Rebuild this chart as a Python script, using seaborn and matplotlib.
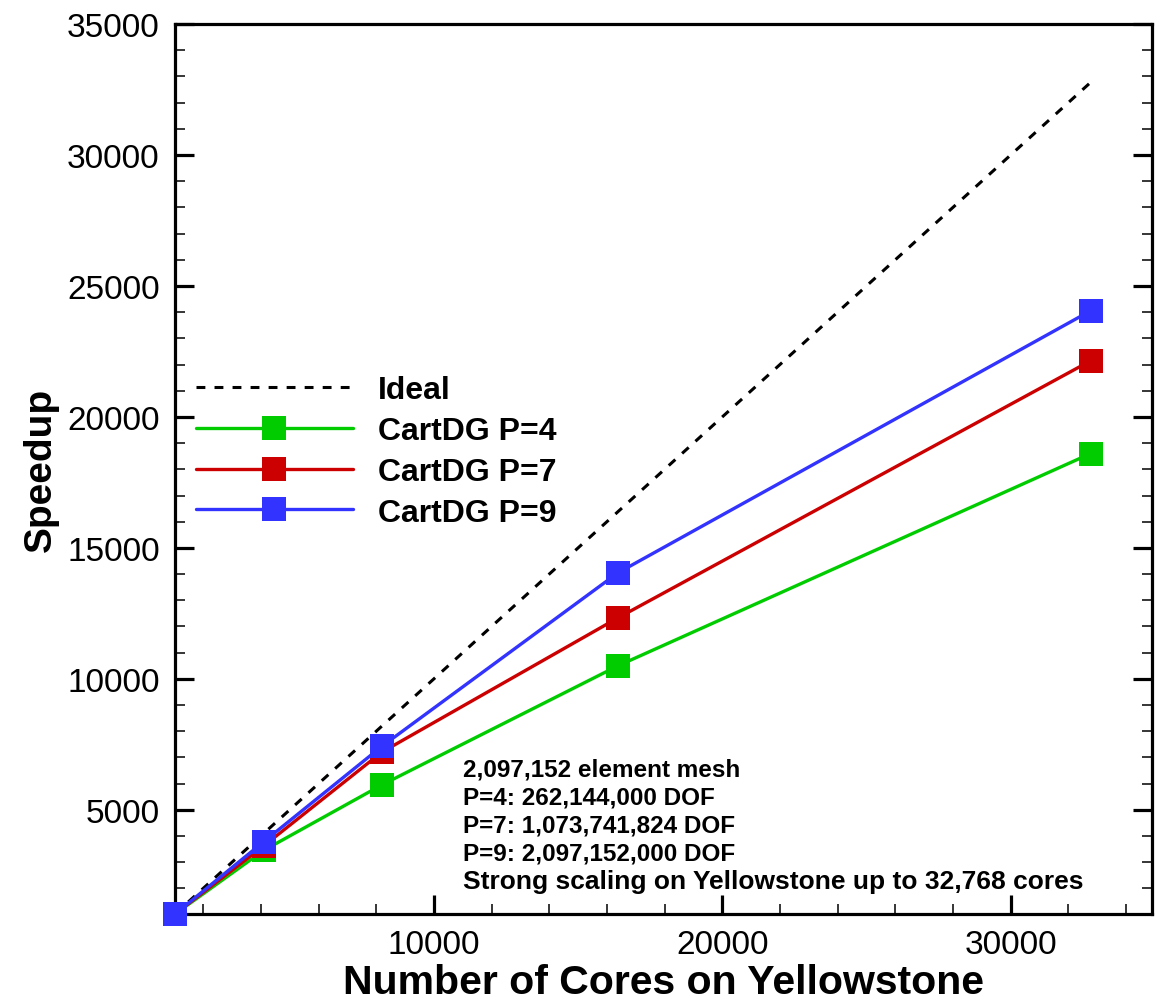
import matplotlib
matplotlib.use("Agg")
import matplotlib.pyplot as plt
from matplotlib.ticker import MultipleLocator
import seaborn as sns
import pandas as pd

# ---- data ----
cores = [1024, 4096, 8192, 16384, 32768]
ideal = [1024, 4096, 8192, 16384, 32768]
p4 = [1024, 3450, 5950, 10500, 18600]
p7 = [1024, 3620, 7200, 12330, 22140]
p9 = [1024, 3780, 7420, 14050, 24050]
series_names = ["CartDG P=4", "CartDG P=7", "CartDG P=9"]
series_colors = ["#00cc00", "#cc0000", "#3333ff"]
annotation_lines = [
    "2,097,152 element mesh",
    "P=4: 262,144,000 DOF",
    "P=7: 1,073,741,824 DOF",
    "P=9: 2,097,152,000 DOF",
]
annotation_last = "Strong scaling on Yellowstone up to 32,768 cores"

sns.set_theme(style="white")
plt.rcParams["font.family"] = ["Liberation Sans", "DejaVu Sans"]
plt.rcParams.update({"text.color": "black", "axes.labelcolor": "black",
                     "xtick.color": "black", "ytick.color": "black"})

rows = []
for name, vals in zip(series_names, [p4, p7, p9]):
    for c, v in zip(cores, vals):
        rows.append({"cores": c, "speedup": v, "series": name})
df = pd.DataFrame(rows)
df_ideal = pd.DataFrame({"cores": cores, "speedup": ideal})

fig = plt.figure(figsize=(11.6, 10.03), dpi=100)
ax = fig.add_axes([175/1160, 1-915/1003, (1152-175)/1160, (915-25)/1003])

sns.lineplot(data=df_ideal, x="cores", y="speedup", ax=ax, color="black",
             linewidth=2.2, linestyle=(0, (2.9, 3.0)), label="Ideal", zorder=2)
for name, col in zip(series_names, series_colors):
    sub = df[df["series"] == name]
    sns.lineplot(data=sub, x="cores", y="speedup", ax=ax, color=col,
                 linewidth=2.4, marker="s", markersize=17, markeredgewidth=0,
                 label=name, clip_on=False, zorder=3)

ax.set_xlim(1024, 34900)
ax.set_ylim(1024, 35000)
ax.xaxis.set_major_locator(MultipleLocator(10000))
ax.xaxis.set_minor_locator(MultipleLocator(2000))
ax.yaxis.set_major_locator(MultipleLocator(5000))
ax.yaxis.set_minor_locator(MultipleLocator(1000))

for s in ax.spines.values():
    s.set_linewidth(2.3)
    s.set_color("black")
ax.tick_params(which="both", direction="in", left=True, right=True,
               bottom=True, top=False, color="black")
ax.tick_params(which="major", length=14, width=2.3, labelsize=24, pad=11)
ax.tick_params(which="minor", length=7, width=1.1)

ax.set_xlabel("Number of Cores on Yellowstone", fontsize=29.5, fontweight="bold", labelpad=2)
ax.set_ylabel("Speedup", fontsize=28, fontweight="bold", labelpad=6)

leg = ax.legend(loc="upper left", bbox_to_anchor=(180/1160, 1-360/1003),
                bbox_transform=fig.transFigure, frameon=False, borderpad=0,
                handlelength=4.9, handletextpad=0.8, labelspacing=0.34,
                prop={"size": 23, "weight": "bold"}, numpoints=1)

y0 = 1 - 758/1003
ax.text(463/1160, y0, "\n".join(annotation_lines), transform=fig.transFigure,
        fontsize=17.5, fontweight="bold", va="top", ha="left", linespacing=1.28)
ax.text(463/1160, 1 - 870/1003, annotation_last, transform=fig.transFigure,
        fontsize=19, fontweight="bold", va="top", ha="left")

fig.savefig("out.png", dpi=100)
